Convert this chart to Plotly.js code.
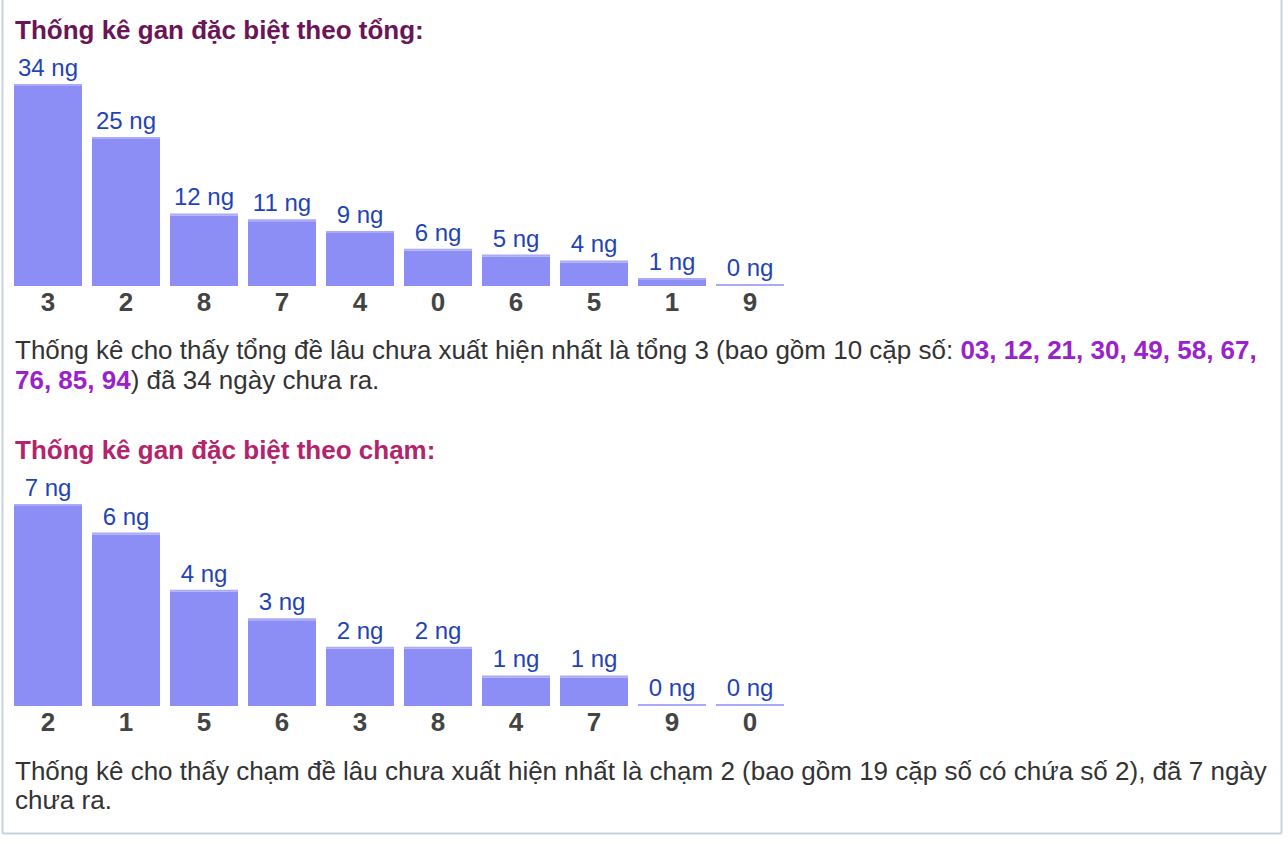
<!DOCTYPE html>
<html>
<head>
<meta charset="utf-8">
<script src="https://cdn.plot.ly/plotly-3.0.1.min.js"></script>
<style>
  html, body { margin: 0; padding: 0; background: #ffffff; }
  #chart { width: 1288px; height: 844px; }
</style>
</head>
<body>
<div id="chart"></div>
<script>
// ---- data ----
const cats1 = ['3', '2', '8', '7', '4', '0', '6', '5', '1', '9'];
const vals1 = [34, 25, 12, 11, 9, 6, 5, 4, 1, 0];
const pairs1 = ['03', '12', '21', '30', '49', '58', '67', '76', '85', '94'];

const cats2 = ['2', '1', '5', '6', '3', '8', '4', '7', '9', '0'];
const vals2 = [7, 6, 4, 3, 2, 2, 1, 1, 0, 0];
const pairsCount2 = 19;

const heading1 = 'Thống kê gan đặc biệt theo tổng:';
const heading2 = 'Thống kê gan đặc biệt theo chạm:';

// ---- page geometry (pixels) ----
const W = 1288, H = 844;
const FONT = 'Liberation Sans, Arial, sans-serif';
const px = x => x / W;
const py = y => 1 - y / H;

const barMain = '#8d8ef5';
const barEdge = '#a9aaf8';
const labelColor = '#1f44b6';
const catColor = '#444444';
const textColor = '#333333';
const pairColor = '#9a22cc';

function barTraces(cats, vals, xa, ya) {
  const mx = Math.max(...vals);
  const edge = mx * 2 / 200; // 2px lighter top strip
  return [
    {
      type: 'bar', x: cats, y: vals, xaxis: xa, yaxis: ya,
      marker: { color: barMain, line: { width: 0 } },
      hoverinfo: 'skip'
    },
    {
      type: 'bar', x: cats, y: vals.map(() => edge), base: vals, xaxis: xa, yaxis: ya,
      marker: { color: barEdge, line: { width: 0 } },
      text: vals.map(v => v + ' ng'),
      textposition: 'outside',
      constraintext: 'none',
      cliponaxis: false,
      textfont: { family: FONT, size: 24, color: labelColor },
      hoverinfo: 'skip'
    }
  ];
}

const data = [
  ...barTraces(cats1, vals1, 'x', 'y'),
  ...barTraces(cats2, vals2, 'x2', 'y2')
];

function rangeFor(vals) {
  const mx = Math.max(...vals);
  return [0, mx + mx * 2 / 200];
}

const xcommon = {
  type: 'category', range: [-0.5, 9.5],
  showgrid: false, zeroline: false, showline: false, ticks: '',
  ticklabelstandoff: -2,
  tickfont: { family: FONT, size: 26, color: catColor, weight: 'bold' },
  fixedrange: true
};
const ycommon = { visible: false, showgrid: false, zeroline: false, fixedrange: true };

const para1a = `Thống kê cho thấy tổng đề lâu chưa xuất hiện nhất là tổng ${cats1[0]} (bao gồm ${pairs1.length} cặp số: ` +
  `<b><span style="color:${pairColor}">${pairs1.slice(0, 7).join(', ')},</span></b>`;
const para1b = `<b><span style="color:${pairColor}">${pairs1.slice(7).join(', ')}</span></b>) đã ${vals1[0]} ngày chưa ra.`;
const para2a = `Thống kê cho thấy chạm đề lâu chưa xuất hiện nhất là chạm ${cats2[0]} (bao gồm ${pairsCount2} cặp số có chứa số ${cats2[0]}), đã ${vals2[0]} ngày`;
const para2b = 'chưa ra.';

function ann(text, x, y, size, color, bold) {
  return {
    text: bold ? '<b>' + text + '</b>' : text,
    xref: 'paper', yref: 'paper', x: px(x), y: py(y),
    xanchor: 'left', yanchor: 'middle', showarrow: false,
    font: { family: FONT, size: size, color: color }
  };
}

const layout = {
  width: W, height: H,
  margin: { l: 0, r: 0, t: 0, b: 0 },
  paper_bgcolor: '#ffffff', plot_bgcolor: 'rgba(0,0,0,0)',
  showlegend: false,
  barmode: 'overlay',
  bargap: 1 - 68 / 78,
  font: { family: FONT },
  xaxis: Object.assign({}, xcommon, { domain: [px(9), px(789)], anchor: 'y' }),
  yaxis: Object.assign({}, ycommon, { domain: [py(286), py(84)], range: rangeFor(vals1), anchor: 'x' }),
  xaxis2: Object.assign({}, xcommon, { domain: [px(9), px(789)], anchor: 'y2' }),
  yaxis2: Object.assign({}, ycommon, { domain: [py(706), py(504)], range: rangeFor(vals2), anchor: 'x2' }),
  annotations: [
    ann(heading1, 13, 30, 26, '#6b1456', true),
    ann(para1a, 13, 350, 26, textColor, false),
    ann(para1b, 13, 380, 26, textColor, false),
    ann(heading2, 13, 450, 26, '#b3246c', true),
    ann(para2a, 13, 771, 26, textColor, false),
    ann(para2b, 13, 800, 26, textColor, false)
  ],
  shapes: [
    { type: 'line', xref: 'paper', yref: 'paper', x0: px(2.5), x1: px(2.5), y0: 1, y1: py(833.5), line: { color: '#c8d3e0', width: 2 } },
    { type: 'line', xref: 'paper', yref: 'paper', x0: px(1281.5), x1: px(1281.5), y0: 1, y1: py(833.5), line: { color: '#c8d3e0', width: 2 } },
    { type: 'line', xref: 'paper', yref: 'paper', x0: px(2.5), x1: px(1281.5), y0: py(833.5), y1: py(833.5), line: { color: '#c8d3e0', width: 2 } }
  ]
};

Plotly.newPlot('chart', data, layout, { displayModeBar: false, staticPlot: true });
</script>
</body>
</html>
